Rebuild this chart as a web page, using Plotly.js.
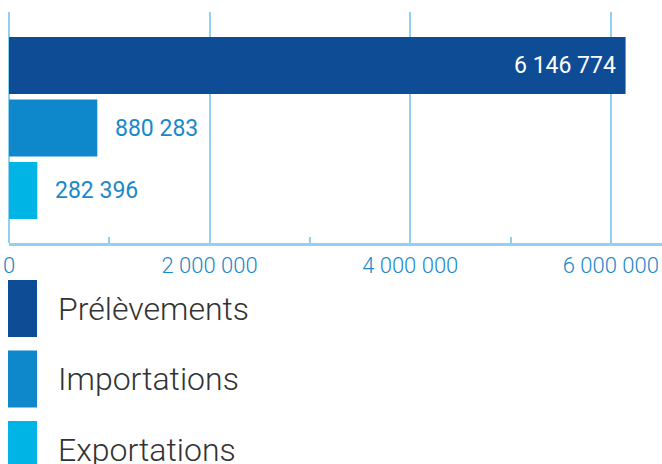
<!DOCTYPE html>
<html><head><meta charset="utf-8">
<script src="https://cdn.plot.ly/plotly-3.0.1.min.js"></script>
<style>html,body{margin:0;padding:0;background:#fff}#c{width:662px;height:464px}</style>
</head><body><div id="c"></div>
<script>
const categories = ["Prélèvements", "Importations", "Exportations"];
const values = [6146774, 880283, 282396];
const colors = ["#0E4C96", "#0E88CB", "#00B5E6"];
const tickVals = [0, 2000000, 4000000, 6000000];

const W = 662, H = 464, mL = 9, mR = 0, mT = 12, mB = 221;
const plotH = H - mT - mB;
const py = p => (H - mB - p) / plotH; // pixel -> paper y
const px = p => (p - mL) / (W - mL - mR);

function fmt(v){ return String(v).replace(/\B(?=(\d{3})+(?!\d))/g, " "); }

const trace = {
  type: "bar", orientation: "h",
  x: values, y: categories,
  marker: {color: colors, line: {width: 0}},
  hoverinfo: "none", showlegend: false
};

const annotations = values.map((v, i) => {
  const inside = i === 0;
  return {
    x: v, y: categories[i], xref: "x", yref: "y",
    text: fmt(v), showarrow: false,
    xanchor: inside ? "right" : "left",
    xshift: inside ? -8 : 16,
    font: {family: "Roboto", size: 23, color: inside ? "#FFFFFF" : "#1A88C9"}
  };
});

const shapes = [];
const legTop = 280, legStep = 70.5, swH = 57;
categories.forEach((c, i) => {
  const t = legTop + i * legStep;
  shapes.push({type: "rect", xref: "paper", yref: "paper",
    x0: px(8), x1: px(37), y0: py(t), y1: py(t + swH),
    fillcolor: colors[i], line: {width: 0}});
  annotations.push({xref: "paper", yref: "paper", x: px(56), y: py(t + swH / 2),
    xanchor: "left", yanchor: "middle", showarrow: false, text: c,
    font: {family: "Roboto", size: 32, color: "#333333", weight: 300}});
});

const layout = {
  width: W, height: H,
  margin: {l: mL, r: mR, t: mT, b: mB, pad: 0},
  paper_bgcolor: "#fff", plot_bgcolor: "#fff",
  separators: ", ",
  bargap: 0.088,
  xaxis: {
    range: [0, 6510000], tickvals: tickVals, ticktext: tickVals.map(fmt),
    showgrid: true, gridcolor: "#8FD1EF", gridwidth: 2,
    zeroline: true, zerolinecolor: "#8FD1EF", zerolinewidth: 2,
    showline: true, linecolor: "#8FD1EF", linewidth: 3,
    ticks: "", ticklabelstandoff: 1,
    tickfont: {family: "Roboto", size: 22, color: "#1A88C9", weight: 300},
    minor: {dtick: 1000000, tick0: 0, ticks: "inside", ticklen: 6, tickcolor: "#8FD1EF", tickwidth: 2, showgrid: false},
    fixedrange: true
  },
  yaxis: {
    type: "category", range: [2.84, -0.856],
    showticklabels: false, showgrid: false, zeroline: false, ticks: "", fixedrange: true
  },
  shapes: shapes,
  annotations: annotations
};

Plotly.newPlot("c", [trace], layout, {displayModeBar: false, staticPlot: true});
</script></body></html>
